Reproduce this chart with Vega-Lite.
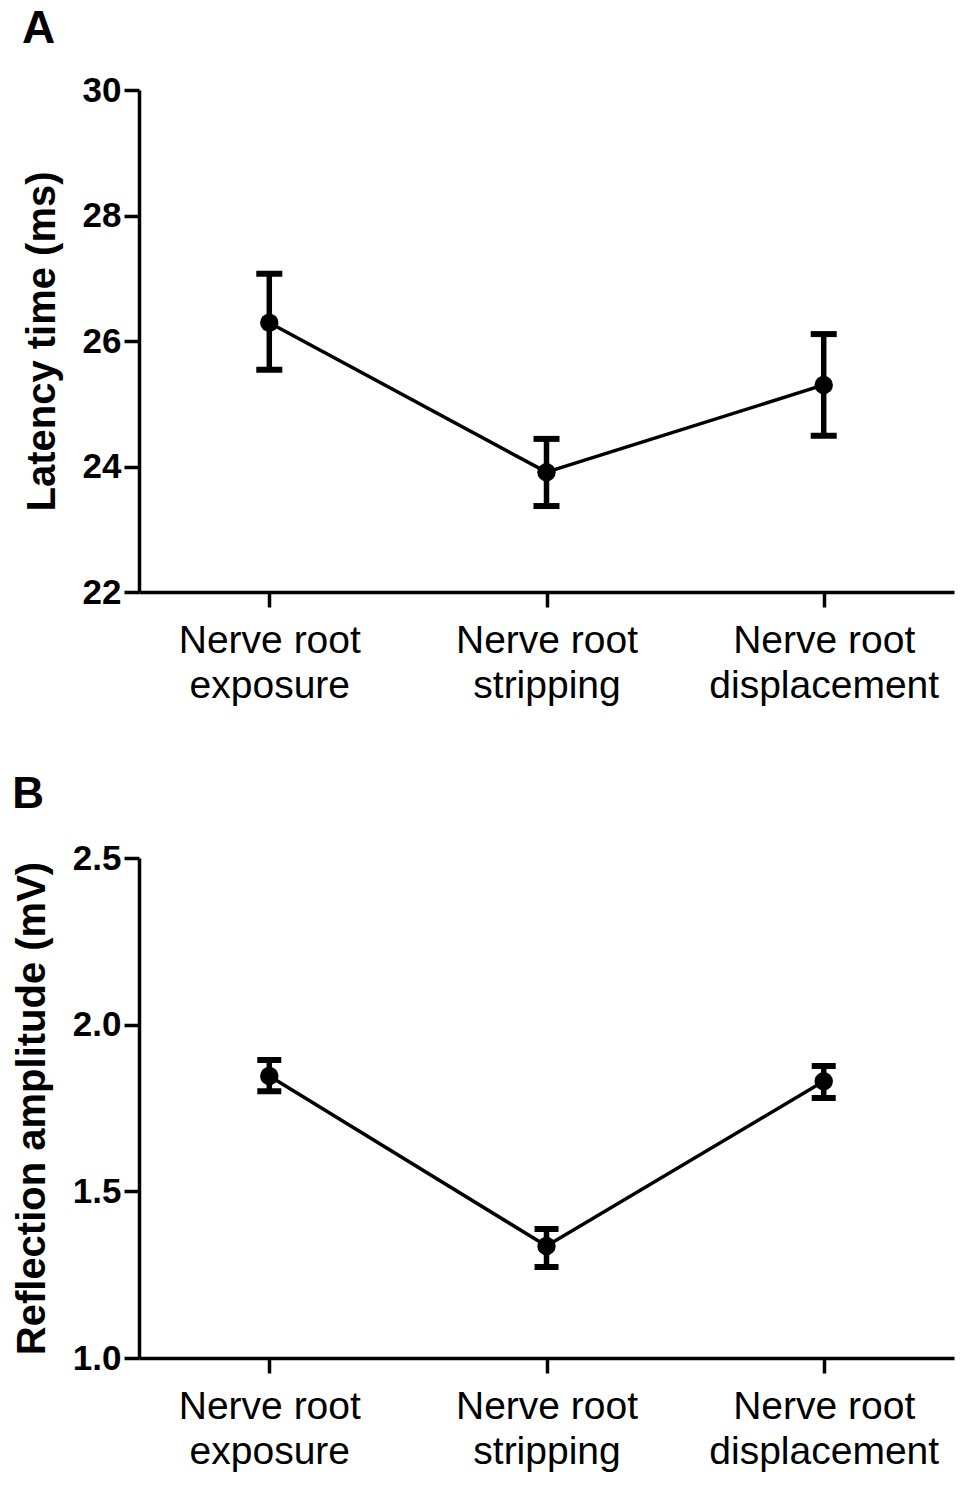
{
  "$schema": "https://vega.github.io/schema/vega-lite/v6.json",
  "background": "white",
  "padding": {"left": 12, "top": 6, "right": 5, "bottom": 5},
  "spacing": 68,
  "config": {
    "font": "Liberation Sans",
    "view": {"stroke": null},
    "axis": {
      "domainColor": "black",
      "domainWidth": 3.5,
      "tickColor": "black",
      "tickWidth": 3.5,
      "tickSize": 15,
      "labelColor": "black",
      "titleColor": "black",
      "grid": false
    },
    "title": {"color": "black", "fontWeight": "bold", "fontSize": 46, "anchor": "start", "frame": "bounds"}
  },
  "vconcat": [
    {
      "title": {"text": "A", "offset": 20},
      "width": 815,
      "height": 502,
      "data": {"values": [
        {"group": "Nerve root exposure", "mean": 26.29, "lo": 25.54, "hi": 27.07},
        {"group": "Nerve root stripping", "mean": 23.91, "lo": 23.37, "hi": 24.44},
        {"group": "Nerve root displacement", "mean": 25.30, "lo": 24.49, "hi": 26.11}
      ]},
      "encoding": {
        "x": {
          "field": "group", "type": "nominal", "sort": null,
          "scale": {"type": "point", "padding": 0.47},
          "axis": {
            "title": null, "labelAngle": 0, "labelFontSize": 39, "labelFont": "Liberation Sans", "labelLimit": 0,
            "labelLineHeight": 45, "labelPadding": 14, "labelBaseline": "top",
            "labelExpr": "['Nerve root', replace(datum.label, 'Nerve root ', '')]"
          }
        }
      },
      "layer": [
        {
          "mark": {"type": "line", "color": "black", "strokeWidth": 3.5},
          "encoding": {"y": {"field": "mean", "type": "quantitative", "title": "Latency time (ms)",
            "scale": {"domain": [22, 30], "nice": false, "zero": false},
            "axis": {"values": [22, 24, 26, 28, 30], "format": "d", "titleFontSize": 40,
              "titleFontWeight": "bold", "titlePadding": 20, "labelFontSize": 35, "labelFontWeight": "bold", "labelPadding": 3}}}
        },
        {
          "mark": {"type": "errorbar", "color": "black", "opacity": 1, "thickness": 5.5, "ticks": {"size": 26, "thickness": 6, "color": "black", "opacity": 1}},
          "encoding": {"y": {"field": "lo", "type": "quantitative", "title": "Latency time (ms)"}, "y2": {"field": "hi"}}
        },
        {
          "mark": {"type": "point", "filled": true, "color": "black", "opacity": 1, "size": 340, "shape": "circle"},
          "encoding": {"y": {"field": "mean", "type": "quantitative", "title": "Latency time (ms)"}}
        }
      ]
    },
    {
      "title": {"text": "B", "offset": 24, "fontSize": 44},
      "width": 815,
      "height": 500,
      "data": {"values": [
        {"group": "Nerve root exposure", "mean": 1.846, "lo": 1.80, "hi": 1.894},
        {"group": "Nerve root stripping", "mean": 1.336, "lo": 1.273, "hi": 1.387},
        {"group": "Nerve root displacement", "mean": 1.83, "lo": 1.78, "hi": 1.876}
      ]},
      "encoding": {
        "x": {
          "field": "group", "type": "nominal", "sort": null,
          "scale": {"type": "point", "padding": 0.47},
          "axis": {
            "title": null, "labelAngle": 0, "labelFontSize": 39, "labelFont": "Liberation Sans", "labelLimit": 0,
            "labelLineHeight": 45, "labelPadding": 14, "labelBaseline": "top",
            "labelExpr": "['Nerve root', replace(datum.label, 'Nerve root ', '')]"
          }
        }
      },
      "layer": [
        {
          "mark": {"type": "line", "color": "black", "strokeWidth": 3.5},
          "encoding": {"y": {"field": "mean", "type": "quantitative", "title": "Reflection amplitude (mV)",
            "scale": {"domain": [1.0, 2.5], "nice": false, "zero": false},
            "axis": {"values": [1.0, 1.5, 2.0, 2.5], "format": ".1f", "titleFontSize": 40,
              "titleFontWeight": "bold", "titlePadding": 20, "labelFontSize": 35, "labelFontWeight": "bold", "labelPadding": 3}}}
        },
        {
          "mark": {"type": "errorbar", "color": "black", "opacity": 1, "thickness": 5.5, "ticks": {"size": 24, "thickness": 6, "color": "black", "opacity": 1}},
          "encoding": {"y": {"field": "lo", "type": "quantitative", "title": "Reflection amplitude (mV)"}, "y2": {"field": "hi"}}
        },
        {
          "mark": {"type": "point", "filled": true, "color": "black", "opacity": 1, "size": 340, "shape": "circle"},
          "encoding": {"y": {"field": "mean", "type": "quantitative", "title": "Reflection amplitude (mV)"}}
        }
      ]
    }
  ]
}
